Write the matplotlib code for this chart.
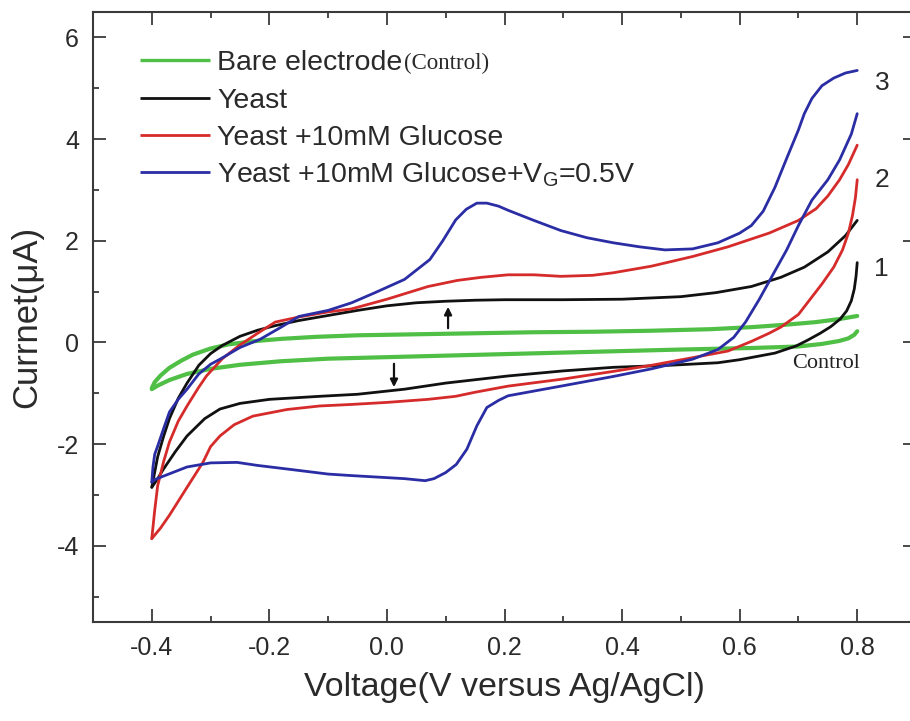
import matplotlib
matplotlib.use("Agg")
import matplotlib.pyplot as plt
from matplotlib.ticker import MultipleLocator

plt.rcParams['font.family'] = ['Liberation Sans', 'DejaVu Sans']
plt.rcParams['mathtext.fontset'] = 'custom'
plt.rcParams['mathtext.rm'] = 'Liberation Sans'

# ---------------- data ----------------
labels = ["Bare electrode", "Yeast", "Yeast +10mM Glucose",
          r"Yeast +10mM Glucose+V$_\mathregular{G}$=0.5V"]
colors = ["#4fbf45", "#111111", "#d62b2b", "#2a2da3"]
curve_tags = ["Control", "1", "2", "3"]

# Bare electrode (control): forward (upper) and reverse (lower) scans
green_fwd_v = [-0.40, -0.395, -0.385, -0.37, -0.35, -0.33, -0.30, -0.27, -0.23, -0.18, -0.12,
               -0.05, 0.05, 0.15, 0.25, 0.35, 0.45, 0.55, 0.62, 0.68, 0.73, 0.77, 0.80]
green_fwd_i = [-0.90, -0.78, -0.65, -0.50, -0.36, -0.24, -0.12, -0.04, 0.02, 0.07, 0.11,
               0.14, 0.16, 0.18, 0.20, 0.21, 0.23, 0.26, 0.30, 0.35, 0.40, 0.46, 0.52]
green_rev_v = [0.80, 0.795, 0.785, 0.77, 0.74, 0.70, 0.62, 0.50, 0.40, 0.30, 0.20, 0.10, 0.00,
               -0.10, -0.18, -0.25, -0.30, -0.34, -0.37, -0.39, -0.40]
green_rev_i = [0.22, 0.15, 0.08, 0.03, -0.03, -0.08, -0.11, -0.14, -0.17, -0.20, -0.23, -0.26,
               -0.29, -0.32, -0.37, -0.44, -0.52, -0.62, -0.74, -0.85, -0.92]

# Yeast
black_fwd_v = [-0.40, -0.395, -0.39, -0.38, -0.37, -0.355, -0.34, -0.32, -0.30, -0.28, -0.25,
               -0.22, -0.19, -0.15, -0.10, -0.05, 0.00, 0.05, 0.10, 0.15, 0.20, 0.30, 0.40,
               0.50, 0.56, 0.62, 0.67, 0.71, 0.75, 0.78, 0.80]
black_fwd_i = [-2.85, -2.55, -2.25, -1.85, -1.50, -1.10, -0.80, -0.45, -0.22, -0.06, 0.12,
               0.24, 0.33, 0.43, 0.53, 0.63, 0.72, 0.78, 0.81, 0.83, 0.84, 0.84, 0.85,
               0.90, 0.98, 1.10, 1.28, 1.48, 1.78, 2.10, 2.40]
black_rev_v = [0.80, 0.798, 0.795, 0.79, 0.782, 0.771, 0.755, 0.737, 0.715, 0.696, 0.66, 0.60,
               0.563, 0.48, 0.385, 0.30, 0.206, 0.10, 0.03, -0.05, -0.114, -0.20, -0.25, -0.284,
               -0.31, -0.34, -0.36, -0.38, -0.39, -0.40]
black_rev_i = [1.57, 1.30, 1.05, 0.82, 0.62, 0.46, 0.31, 0.18, 0.04, -0.07, -0.21, -0.34,
               -0.40, -0.45, -0.49, -0.56, -0.66, -0.80, -0.92, -1.02, -1.06, -1.12, -1.20, -1.31,
               -1.50, -1.84, -2.15, -2.49, -2.68, -2.85]

# Yeast + 10 mM glucose
red_fwd_v = [-0.40, -0.395, -0.39, -0.38, -0.37, -0.355, -0.34, -0.32, -0.307, -0.28, -0.25,
             -0.22, -0.19, -0.15, -0.10, -0.06, 0.00, 0.07, 0.12, 0.16, 0.206, 0.25, 0.296,
             0.35, 0.385, 0.45, 0.52, 0.58, 0.65, 0.70, 0.73, 0.75, 0.77, 0.785, 0.80]
red_fwd_i = [-3.86, -3.30, -2.82, -2.35, -1.96, -1.55, -1.25, -0.88, -0.66, -0.32, -0.05,
             0.18, 0.40, 0.50, 0.60, 0.66, 0.85, 1.10, 1.22, 1.28, 1.33, 1.33, 1.30,
             1.32, 1.37, 1.50, 1.69, 1.88, 2.15, 2.40, 2.63, 2.88, 3.20, 3.50, 3.88]
red_rev_v = [0.80, 0.797, 0.792, 0.785, 0.775, 0.76, 0.74, 0.72, 0.70, 0.67, 0.65, 0.62, 0.58,
             0.52, 0.45, 0.385, 0.30, 0.206, 0.15, 0.117, 0.07, 0.00, -0.06, -0.114, -0.17,
             -0.228, -0.26, -0.284, -0.30, -0.313, -0.34, -0.37, -0.385, -0.40]
red_rev_i = [3.20, 2.85, 2.50, 2.15, 1.82, 1.48, 1.15, 0.85, 0.55, 0.30, 0.18, 0.02, -0.17,
             -0.30, -0.45, -0.57, -0.72, -0.86, -0.98, -1.06, -1.12, -1.18, -1.22, -1.25, -1.32,
             -1.45, -1.62, -1.84, -2.05, -2.36, -2.85, -3.40, -3.65, -3.86]

# Yeast + 10 mM glucose + VG = 0.5 V
blue_fwd_v = [-0.40, -0.398, -0.395, -0.39, -0.38, -0.37, -0.355, -0.34, -0.32, -0.30, -0.284,
              -0.25, -0.216, -0.18, -0.15, -0.10, -0.06, -0.02, 0.03, 0.073, 0.095, 0.117,
              0.135, 0.153, 0.17, 0.19, 0.206, 0.25, 0.296, 0.34, 0.385, 0.43, 0.473, 0.52,
              0.563, 0.60, 0.62, 0.64, 0.66, 0.68, 0.70, 0.71, 0.723, 0.74, 0.76, 0.78, 0.80]
blue_fwd_i = [-2.75, -2.45, -2.20, -2.04, -1.70, -1.37, -1.12, -0.92, -0.62, -0.43, -0.33,
              -0.10, 0.06, 0.30, 0.51, 0.63, 0.78, 0.98, 1.24, 1.63, 2.00, 2.41,
              2.62, 2.74, 2.74, 2.68, 2.60, 2.40, 2.20, 2.06, 1.96, 1.88, 1.82, 1.84,
              1.96, 2.15, 2.30, 2.58, 3.05, 3.62, 4.18, 4.50, 4.80, 5.05, 5.20, 5.30, 5.35]
blue_rev_v = [0.80, 0.79, 0.77, 0.75, 0.723, 0.70, 0.68, 0.655, 0.633, 0.61, 0.59, 0.563,
              0.52, 0.45, 0.385, 0.296, 0.206, 0.19, 0.17, 0.153, 0.136, 0.118, 0.10, 0.08,
              0.065, 0.03, -0.015, -0.06, -0.10, -0.17, -0.22, -0.255, -0.30, -0.34, -0.38,
              -0.395, -0.40]
blue_rev_i = [4.50, 4.10, 3.59, 3.20, 2.80, 2.30, 1.82, 1.30, 0.84, 0.40, 0.10, -0.14,
              -0.33, -0.52, -0.67, -0.86, -1.05, -1.14, -1.28, -1.64, -2.10, -2.40, -2.56, -2.68,
              -2.72, -2.68, -2.65, -2.62, -2.59, -2.49, -2.42, -2.36, -2.37, -2.45, -2.63,
              -2.70, -2.75]

series = [
    (green_fwd_v, green_fwd_i, green_rev_v, green_rev_i),
    (black_fwd_v, black_fwd_i, black_rev_v, black_rev_i),
    (red_fwd_v, red_fwd_i, red_rev_v, red_rev_i),
    (blue_fwd_v, blue_fwd_i, blue_rev_v, blue_rev_i),
]
line_widths = [3.0, 2.0, 2.0, 2.0]

# ---------------- figure ----------------
W, H = 910, 721
fig = plt.figure(figsize=(W / 100, H / 100), dpi=100)
ax_l, ax_r, ax_t, ax_b = 93, 916, 12, 622
ax = fig.add_axes([ax_l / W, 1 - ax_b / H, (ax_r - ax_l) / W, (ax_b - ax_t) / H])

for (fv, fi, rv, ri), c, lw in zip(series, colors, line_widths):
    ax.plot(fv, fi, color=c, lw=lw, solid_capstyle='round', solid_joinstyle='round')
    ax.plot(rv, ri, color=c, lw=lw, solid_capstyle='round', solid_joinstyle='round')

ax.set_xlim(-0.5, 0.9)
ax.set_ylim(-5.5, 6.5)
ax.xaxis.set_minor_locator(MultipleLocator(0.1))
ax.yaxis.set_minor_locator(MultipleLocator(1))
ax.set_xticks([-0.4, -0.2, 0.0, 0.2, 0.4, 0.6, 0.8])
ax.set_xticklabels(["-0.4", "-0.2", "0.0", "0.2", "0.4", "0.6", "0.8"])
ax.set_yticks([-4, -2, 0, 2, 4, 6])
ax.set_yticklabels(["-4", "-2", "0", "2", "4", "6"])

spine_col = "#3a3a3a"
for s in ax.spines.values():
    s.set_color(spine_col)
    s.set_linewidth(1.5)
ax.tick_params(which='both', direction='in', top=True, right=True, color=spine_col,
               width=1.3, labelcolor="#2a2a2a", labelsize=18)
ax.tick_params(which='major', length=9.5, pad=10)
ax.tick_params(which='minor', length=4.5)

ax.set_xlabel("Voltage(V versus Ag/AgCl)", fontsize=24.5, color="#2a2a2a", labelpad=9)
ax.set_ylabel("Currnet(\u03bcA)", fontsize=25, color="#2a2a2a", labelpad=10)

# ---------------- legend (manual) ----------------
def fx(px):
    return (px - ax_l) / (ax_r - ax_l)

def fy(py):
    return (ax_b - py) / (ax_b - ax_t)

row_y = [60, 98, 135, 172]
for lab, c, lw, ry in zip(labels, colors, line_widths, row_y):
    ax.plot([fx(140), fx(210)], [fy(ry), fy(ry)], transform=ax.transAxes, color=c,
            lw=min(lw, 2.4), solid_capstyle='butt')
    t = ax.text(fx(217), fy(ry + 10), lab, transform=ax.transAxes, fontsize=20.5,
                color="#2a2a2a", va='baseline', ha='left')
    if lab == "Bare electrode":
        ax.annotate("(Control)", xy=(1, 0), xycoords=t, xytext=(1, 1.2),
                    textcoords='offset points', fontsize=16.5,
                    family=['Liberation Serif', 'DejaVu Serif'], color="#2a2a2a",
                    va='bottom', ha='left')

# ---------------- curve tags and arrows ----------------
tag_pos = [(0.747, -0.42), (0.828, 1.45), (0.83, 3.2), (0.83, 5.1)]
for tag, (tx, ty) in zip(curve_tags, tag_pos):
    if tag == "Control":
        ax.text(tx, ty, tag, fontsize=16, family=['Liberation Serif', 'DejaVu Serif'],
                color="#222222", ha='center', va='center')
    else:
        ax.text(tx, ty, tag, fontsize=19, color="#2a2a2a", ha='left', va='center')

arrow_kw = dict(arrowstyle='-|>', color='#111111', lw=1.6, mutation_scale=11,
                shrinkA=0, shrinkB=0)
ax.annotate("", xy=(0.104, 0.70), xytext=(0.104, 0.28), arrowprops=arrow_kw)
ax.annotate("", xy=(0.012, -0.88), xytext=(0.012, -0.42), arrowprops=arrow_kw)

fig.savefig("out.png", dpi=100, facecolor='white')
